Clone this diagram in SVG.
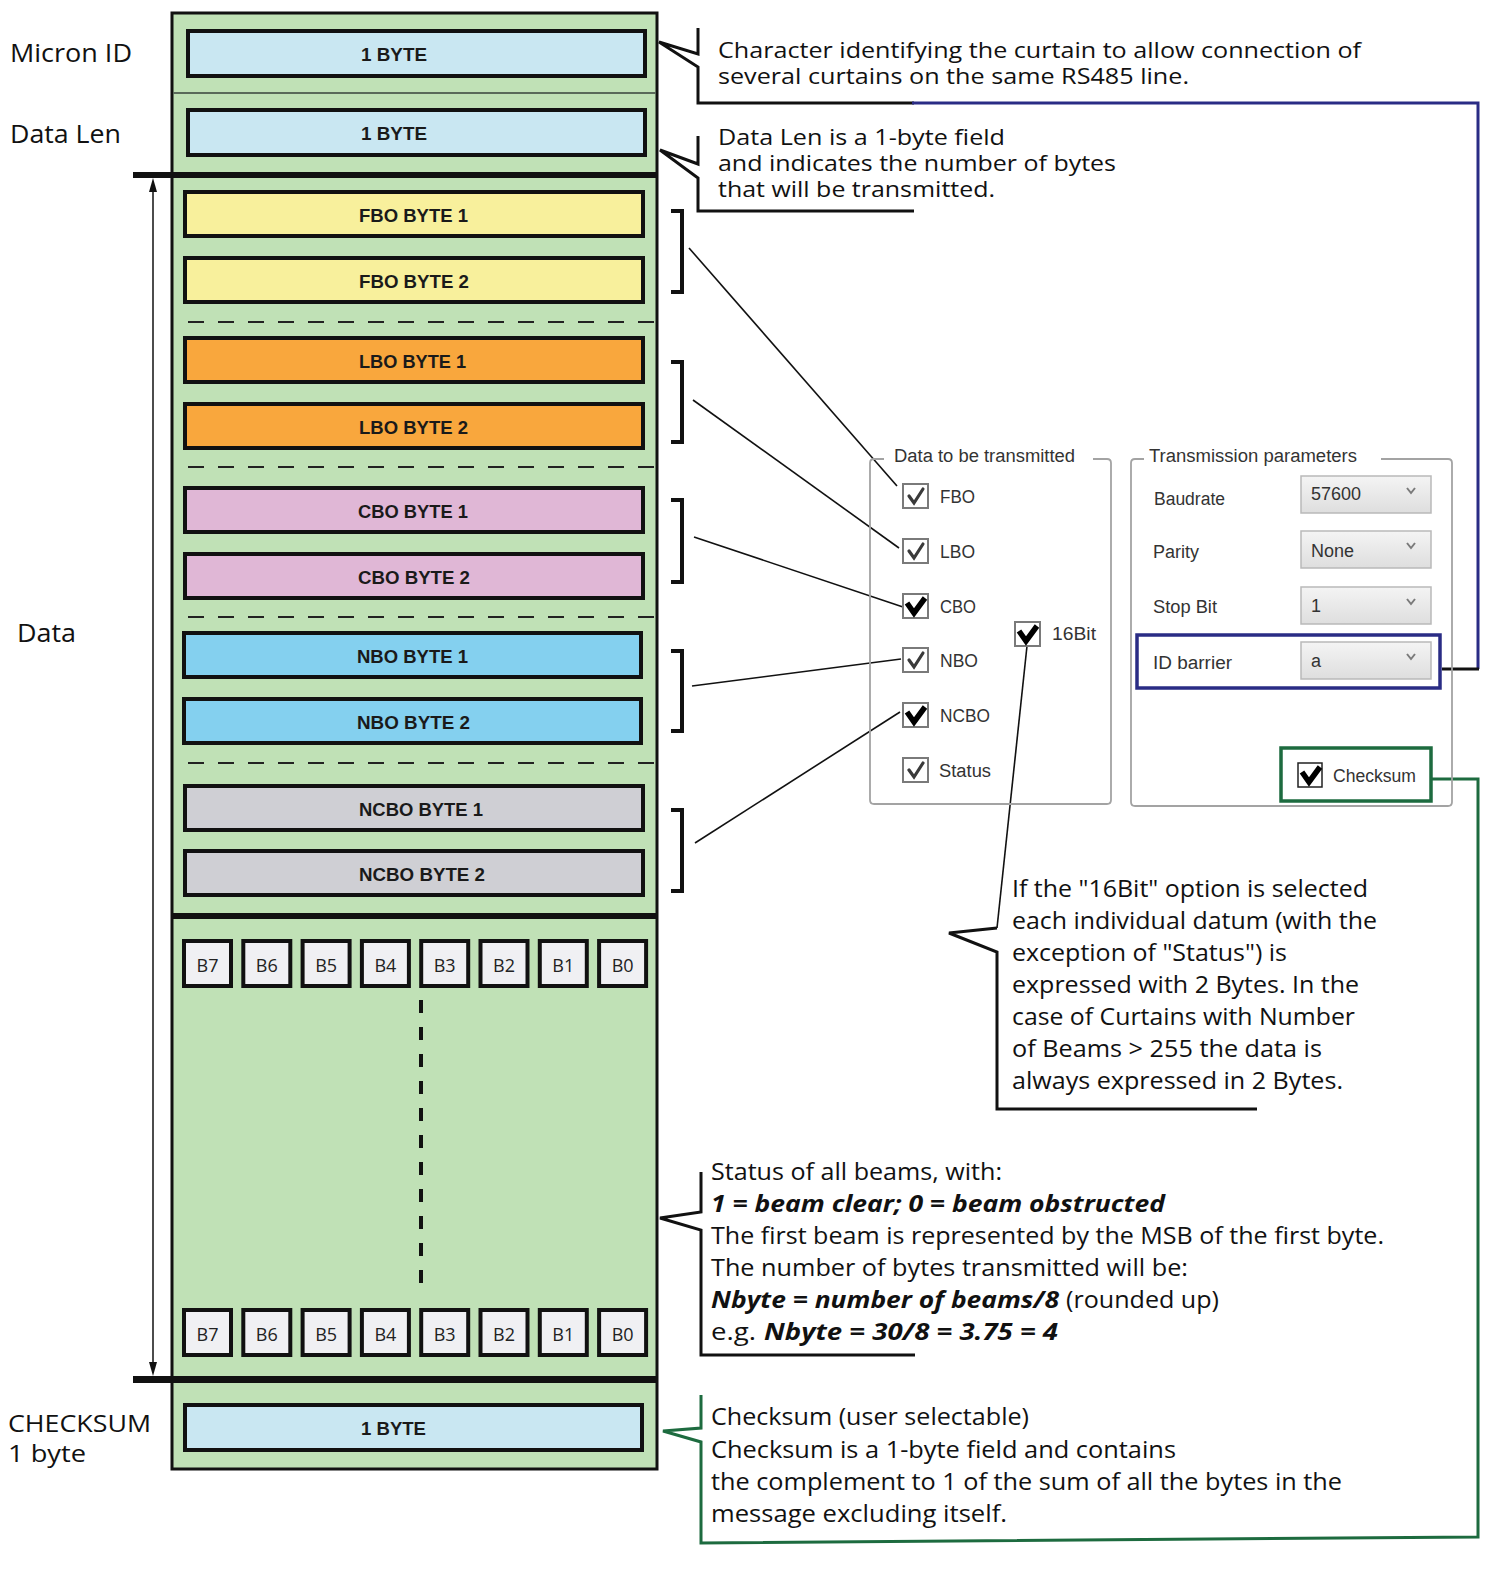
<svg xmlns="http://www.w3.org/2000/svg" width="1511" height="1578" viewBox="0 0 1511 1578">
<defs>
<style>
.lbl{font-family:"Open Sans","Liberation Sans",sans-serif;font-size:25px;fill:#111}
.lbs{font-family:"Open Sans","Liberation Sans",sans-serif;font-size:23px;fill:#111}
.bx{stroke:#111;stroke-width:4}
.bt{font-family:"Liberation Sans",Arial,sans-serif;font-weight:bold;font-size:18px;fill:#1a1a1a}
.bit{fill:#f0f0f3;stroke:#111;stroke-width:4}
.bitt{font-family:"Open Sans","Liberation Sans",sans-serif;font-size:18px;fill:#222;text-anchor:middle}
.dash{stroke:#222;stroke-width:2;stroke-dasharray:16 14}
.ann{font-family:"Open Sans","Liberation Sans",sans-serif;font-size:23px;fill:#111}
.ann2{font-family:"Open Sans","Liberation Sans",sans-serif;font-size:21px;fill:#111}
.bi{font-weight:bold;font-style:italic}
.call{fill:none;stroke:#111;stroke-width:3;stroke-linejoin:miter}
.thin{stroke:#111;stroke-width:1.6;fill:none}
.brk{fill:none;stroke:#111;stroke-width:4}
.ui{font-family:"Liberation Sans","DejaVu Sans",Arial,sans-serif;font-size:18px;fill:#333}
.grp{fill:none;stroke:#a3a3a3;stroke-width:1.8}
.cb{fill:#fff;stroke:#7a7a7a;stroke-width:2}
.chk{fill:none;stroke:#3a3a3a;stroke-width:3.2;stroke-linecap:round}
.chkb{fill:none;stroke:#000;stroke-width:5.5}
.dd{fill:url(#ddg);stroke:#b9b9b9;stroke-width:1.5}
.chev{fill:none;stroke:#7a7a7a;stroke-width:2}
</style>
<linearGradient id="ddg" x1="0" y1="0" x2="0" y2="1">
<stop offset="0" stop-color="#f4f4f4"/>
<stop offset="1" stop-color="#dedede"/>
</linearGradient>
</defs>
<rect width="1511" height="1578" fill="#ffffff"/>

<g id="frame">
<rect x="172" y="13" width="485" height="1456" fill="#c0e1b6" stroke="#111" stroke-width="3"/>
<line x1="173" y1="93" x2="656" y2="93" stroke="#5a6a5a" stroke-width="2"/>
<rect x="133" y="172" width="525" height="6" fill="#111"/>
<rect x="171" y="913" width="487" height="6" fill="#111"/>
<rect x="133" y="1376" width="525" height="7" fill="#111"/>
<line class="dash" x1="188" y1="322" x2="656" y2="322"/>
<line class="dash" x1="188" y1="467" x2="656" y2="467"/>
<line class="dash" x1="188" y1="617" x2="656" y2="617"/>
<line class="dash" x1="188" y1="763" x2="656" y2="763"/>
<line x1="421" y1="1000" x2="421" y2="1286" stroke="#111" stroke-width="4" stroke-dasharray="13 14"/>
<line x1="153" y1="188" x2="153" y2="1364" stroke="#111" stroke-width="1.5"/>
<polygon points="153,178 149,192 157,192" fill="#111"/>
<polygon points="153,1376 149,1362 157,1362" fill="#111"/>
</g>

<g id="labels-left">
<text class="lbl" x="10" y="62" textLength="122" lengthAdjust="spacingAndGlyphs">Micron ID</text>
<text class="lbl" x="10" y="143" textLength="111" lengthAdjust="spacingAndGlyphs">Data Len</text>
<text class="lbl" x="17" y="642" textLength="59" lengthAdjust="spacingAndGlyphs">Data</text>
<text class="lbs" x="8" y="1432" textLength="143" lengthAdjust="spacingAndGlyphs">CHECKSUM</text>
<text class="lbs" x="8" y="1462" textLength="78" lengthAdjust="spacingAndGlyphs">1 byte</text>
</g>

<g id="node-micron-id"><rect class="bx" x="188" y="31" width="457" height="45" fill="#c9e7f2"/><text class="bt" x="361" y="61" textLength="66" lengthAdjust="spacingAndGlyphs">1 BYTE</text></g>
<g id="node-data-len"><rect class="bx" x="188" y="110" width="457" height="45" fill="#c9e7f2"/><text class="bt" x="361" y="140" textLength="66" lengthAdjust="spacingAndGlyphs">1 BYTE</text></g>
<g id="node-fbo1"><rect class="bx" x="185" y="192" width="458" height="44" fill="#f8f09c"/><text class="bt" x="359" y="222" textLength="109" lengthAdjust="spacingAndGlyphs">FBO BYTE 1</text></g>
<g id="node-fbo2"><rect class="bx" x="185" y="258" width="458" height="44" fill="#f8f09c"/><text class="bt" x="359" y="288" textLength="110" lengthAdjust="spacingAndGlyphs">FBO BYTE 2</text></g>
<g id="node-lbo1"><rect class="bx" x="185" y="338" width="458" height="44" fill="#f9a73d"/><text class="bt" x="359" y="368" textLength="107" lengthAdjust="spacingAndGlyphs">LBO BYTE 1</text></g>
<g id="node-lbo2"><rect class="bx" x="185" y="404" width="458" height="44" fill="#f9a73d"/><text class="bt" x="359" y="434" textLength="109" lengthAdjust="spacingAndGlyphs">LBO BYTE 2</text></g>
<g id="node-cbo1"><rect class="bx" x="185" y="488" width="458" height="44" fill="#e0b7d6"/><text class="bt" x="358" y="518" textLength="110" lengthAdjust="spacingAndGlyphs">CBO BYTE 1</text></g>
<g id="node-cbo2"><rect class="bx" x="185" y="554" width="458" height="44" fill="#e0b7d6"/><text class="bt" x="358" y="584" textLength="112" lengthAdjust="spacingAndGlyphs">CBO BYTE 2</text></g>
<g id="node-nbo1"><rect class="bx" x="184" y="633" width="457" height="44" fill="#84d0ef"/><text class="bt" x="357" y="663" textLength="111" lengthAdjust="spacingAndGlyphs">NBO BYTE 1</text></g>
<g id="node-nbo2"><rect class="bx" x="184" y="699" width="457" height="44" fill="#84d0ef"/><text class="bt" x="357" y="729" textLength="113" lengthAdjust="spacingAndGlyphs">NBO BYTE 2</text></g>
<g id="node-ncbo1"><rect class="bx" x="185" y="786" width="458" height="44" fill="#cfcfd4"/><text class="bt" x="359" y="816" textLength="124" lengthAdjust="spacingAndGlyphs">NCBO BYTE 1</text></g>
<g id="node-ncbo2"><rect class="bx" x="185" y="851" width="458" height="44" fill="#cfcfd4"/><text class="bt" x="359" y="881" textLength="126" lengthAdjust="spacingAndGlyphs">NCBO BYTE 2</text></g>

<g id="node-bits-first">
<rect class="bit" x="184" y="941" width="47" height="45"/><text class="bitt" x="207.5" y="972">B7</text>
<rect class="bit" x="243.3" y="941" width="47" height="45"/><text class="bitt" x="266.8" y="972">B6</text>
<rect class="bit" x="302.6" y="941" width="47" height="45"/><text class="bitt" x="326.1" y="972">B5</text>
<rect class="bit" x="361.9" y="941" width="47" height="45"/><text class="bitt" x="385.4" y="972">B4</text>
<rect class="bit" x="421.2" y="941" width="47" height="45"/><text class="bitt" x="444.7" y="972">B3</text>
<rect class="bit" x="480.5" y="941" width="47" height="45"/><text class="bitt" x="504" y="972">B2</text>
<rect class="bit" x="539.8" y="941" width="47" height="45"/><text class="bitt" x="563.3" y="972">B1</text>
<rect class="bit" x="599.1" y="941" width="47" height="45"/><text class="bitt" x="622.6" y="972">B0</text>
</g>
<g id="node-bits-last">
<rect class="bit" x="184" y="1310" width="47" height="45"/><text class="bitt" x="207.5" y="1341">B7</text>
<rect class="bit" x="243.3" y="1310" width="47" height="45"/><text class="bitt" x="266.8" y="1341">B6</text>
<rect class="bit" x="302.6" y="1310" width="47" height="45"/><text class="bitt" x="326.1" y="1341">B5</text>
<rect class="bit" x="361.9" y="1310" width="47" height="45"/><text class="bitt" x="385.4" y="1341">B4</text>
<rect class="bit" x="421.2" y="1310" width="47" height="45"/><text class="bitt" x="444.7" y="1341">B3</text>
<rect class="bit" x="480.5" y="1310" width="47" height="45"/><text class="bitt" x="504" y="1341">B2</text>
<rect class="bit" x="539.8" y="1310" width="47" height="45"/><text class="bitt" x="563.3" y="1341">B1</text>
<rect class="bit" x="599.1" y="1310" width="47" height="45"/><text class="bitt" x="622.6" y="1341">B0</text>
</g>
<g id="node-checksum"><rect class="bx" x="185" y="1405" width="457" height="45" fill="#c9e7f2"/><text class="bt" x="361" y="1435" textLength="65" lengthAdjust="spacingAndGlyphs">1 BYTE</text></g>

<g id="connectors">
<polyline class="call" points="698,28 698,54 659,42 698,67 698,103 914,103"/>
<polyline fill="none" stroke="#2a2c85" stroke-width="3" points="912,103 1478,103 1478,669"/>
<line x1="1442" y1="669" x2="1479" y2="669" stroke="#111" stroke-width="3"/>
<polyline class="call" points="698,136 698,164 660,150 698,178 698,211 914,211"/>
<path class="brk" d="M671,211 H682 V292 H671 M671,362 H682 V442 H671 M671,500 H682 V582 H671 M671,651 H682 V731 H671 M671,810 H682 V891 H671"/>
<line class="thin" x1="689" y1="248" x2="897" y2="486"/>
<line class="thin" x1="693" y1="400" x2="899" y2="548"/>
<line class="thin" x1="694" y1="537" x2="903" y2="607"/>
<line class="thin" x1="692" y1="686" x2="901" y2="659"/>
<line class="thin" x1="695" y1="843" x2="900" y2="712"/>
<polyline class="thin" points="1027,646 997,928"/>
<polyline class="call" stroke-width="2.2" points="997,928 949,933 997,952 997,1109 1257,1109"/>
<polyline class="call" points="701,1172 701,1212 660,1218 701,1230 701,1355 915,1355"/>
<polyline fill="none" stroke="#1d6b3f" stroke-width="3" points="1432,779 1478,779 1478,1537 701,1543 701,1442 663,1431 701,1428 701,1395"/>
</g>

<g id="note-micron">
<text class="ann2" x="718" y="58" textLength="643" lengthAdjust="spacingAndGlyphs">Character identifying the curtain to allow connection of</text>
<text class="ann2" x="718" y="84" textLength="471" lengthAdjust="spacingAndGlyphs">several curtains on the same RS485 line.</text>
</g>
<g id="note-datalen">
<text class="ann2" x="718" y="145" textLength="287" lengthAdjust="spacingAndGlyphs">Data Len is a 1-byte field</text>
<text class="ann2" x="718" y="171" textLength="398" lengthAdjust="spacingAndGlyphs">and indicates the number of bytes</text>
<text class="ann2" x="718" y="197" textLength="277" lengthAdjust="spacingAndGlyphs">that will be transmitted.</text>
</g>
<g id="note-16bit">
<text class="ann" x="1012" y="897" textLength="356" lengthAdjust="spacingAndGlyphs">If the "16Bit" option is selected</text>
<text class="ann" x="1012" y="929" textLength="365" lengthAdjust="spacingAndGlyphs">each individual datum (with the</text>
<text class="ann" x="1012" y="961" textLength="275" lengthAdjust="spacingAndGlyphs">exception of "Status") is</text>
<text class="ann" x="1012" y="993" textLength="347" lengthAdjust="spacingAndGlyphs">expressed with 2 Bytes. In the</text>
<text class="ann" x="1012" y="1025" textLength="343" lengthAdjust="spacingAndGlyphs">case of Curtains with Number</text>
<text class="ann" x="1012" y="1057" textLength="310" lengthAdjust="spacingAndGlyphs">of Beams &gt; 255 the data is</text>
<text class="ann" x="1012" y="1089" textLength="331" lengthAdjust="spacingAndGlyphs">always expressed in 2 Bytes.</text>
</g>
<g id="note-status">
<text class="ann" x="711" y="1180" textLength="291" lengthAdjust="spacingAndGlyphs">Status of all beams, with:</text>
<text class="ann bi" x="711" y="1212" textLength="454" lengthAdjust="spacingAndGlyphs">1 = beam clear; 0 = beam obstructed</text>
<text class="ann" x="711" y="1244" textLength="673" lengthAdjust="spacingAndGlyphs">The first beam is represented by the MSB of the first byte.</text>
<text class="ann" x="711" y="1276" textLength="477" lengthAdjust="spacingAndGlyphs">The number of bytes transmitted will be:</text>
<text class="ann bi" x="711" y="1308" textLength="348" lengthAdjust="spacingAndGlyphs">Nbyte = number of beams/8</text>
<text class="ann" x="1066" y="1308" textLength="153" lengthAdjust="spacingAndGlyphs">(rounded up)</text>
<text class="ann" x="711" y="1340" textLength="45" lengthAdjust="spacingAndGlyphs">e.g.</text>
<text class="ann bi" x="764" y="1340" textLength="294" lengthAdjust="spacingAndGlyphs">Nbyte = 30/8 = 3.75 = 4</text>
</g>
<g id="note-checksum">
<text class="ann" x="711" y="1425" textLength="318" lengthAdjust="spacingAndGlyphs">Checksum (user selectable)</text>
<text class="ann" x="711" y="1458" textLength="465" lengthAdjust="spacingAndGlyphs">Checksum is a 1-byte field and contains</text>
<text class="ann" x="711" y="1490" textLength="631" lengthAdjust="spacingAndGlyphs">the complement to 1 of the sum of all the bytes in the</text>
<text class="ann" x="711" y="1522" textLength="296" lengthAdjust="spacingAndGlyphs">message excluding itself.</text>
</g>

<g id="node-data-panel">
<path class="grp" d="M884,459 H874 Q870,459 870,463 V800 Q870,804 874,804 H1107 Q1111,804 1111,800 V463 Q1111,459 1107,459 H1093"/>
<text class="ui" x="894" y="462" textLength="181" lengthAdjust="spacingAndGlyphs">Data to be transmitted</text>
<rect class="cb" x="903" y="484" width="25" height="24"/><path class="chk" d="M909,496 L914,503 L923,489"/>
<text class="ui" x="940" y="503" textLength="35" lengthAdjust="spacingAndGlyphs">FBO</text>
<rect class="cb" x="903" y="539" width="25" height="24"/><path class="chk" d="M909,551 L914,558 L923,544"/>
<text class="ui" x="940" y="558" textLength="35" lengthAdjust="spacingAndGlyphs">LBO</text>
<rect class="cb" x="903" y="594" width="25" height="24"/><path class="chkb" d="M907,603 L914,613 L925,598"/>
<text class="ui" x="940" y="613" textLength="36" lengthAdjust="spacingAndGlyphs">CBO</text>
<rect class="cb" x="903" y="648" width="25" height="24"/><path class="chk" d="M909,660 L914,667 L923,653"/>
<text class="ui" x="940" y="667" textLength="38" lengthAdjust="spacingAndGlyphs">NBO</text>
<rect class="cb" x="903" y="703" width="25" height="24"/><path class="chkb" d="M907,712 L914,722 L925,707"/>
<text class="ui" x="940" y="722" textLength="50" lengthAdjust="spacingAndGlyphs">NCBO</text>
<rect class="cb" x="903" y="758" width="25" height="24"/><path class="chk" d="M909,770 L914,777 L923,763"/>
<text class="ui" x="939" y="777" textLength="52" lengthAdjust="spacingAndGlyphs">Status</text>
<rect class="cb" x="1015" y="622" width="25" height="24"/><path class="chkb" d="M1019,631 L1026,641 L1037,626"/>
<text class="ui" x="1052" y="640" textLength="44" lengthAdjust="spacingAndGlyphs">16Bit</text>
</g>

<g id="node-params-panel">
<path class="grp" d="M1144,459 H1135 Q1131,459 1131,463 V802 Q1131,806 1135,806 H1448 Q1452,806 1452,802 V463 Q1452,459 1448,459 H1381"/>
<text class="ui" x="1149" y="462" textLength="208" lengthAdjust="spacingAndGlyphs">Transmission parameters</text>
<text class="ui" x="1154" y="505" textLength="71" lengthAdjust="spacingAndGlyphs">Baudrate</text>
<rect class="dd" x="1301" y="476" width="130" height="37"/>
<text class="ui" x="1311" y="500" textLength="50" lengthAdjust="spacingAndGlyphs">57600</text>
<polyline class="chev" points="1407,488 1411,493 1415,488"/>
<text class="ui" x="1153" y="558" textLength="46" lengthAdjust="spacingAndGlyphs">Parity</text>
<rect class="dd" x="1301" y="531" width="130" height="37"/>
<text class="ui" x="1311" y="557" textLength="43" lengthAdjust="spacingAndGlyphs">None</text>
<polyline class="chev" points="1407,543 1411,548 1415,543"/>
<text class="ui" x="1153" y="613" textLength="64" lengthAdjust="spacingAndGlyphs">Stop Bit</text>
<rect class="dd" x="1301" y="587" width="130" height="37"/>
<text class="ui" x="1311" y="612">1</text>
<polyline class="chev" points="1407,599 1411,604 1415,599"/>
<rect x="1137" y="635" width="303" height="53" fill="none" stroke="#2a2c85" stroke-width="3.5"/>
<text class="ui" x="1153" y="669" textLength="79" lengthAdjust="spacingAndGlyphs">ID barrier</text>
<rect class="dd" x="1301" y="642" width="130" height="37"/>
<text class="ui" x="1311" y="667">a</text>
<polyline class="chev" points="1407,654 1411,659 1415,654"/>
<rect x="1281" y="748" width="150" height="53" fill="none" stroke="#1d6b3f" stroke-width="3.5"/>
<rect x="1298" y="763" width="24" height="24" fill="#fff" stroke="#222" stroke-width="1.5"/>
<path class="chkb" d="M1302,772 L1309,782 L1320,767"/>
<text class="ui" x="1333" y="782" textLength="83" lengthAdjust="spacingAndGlyphs">Checksum</text>
</g>
</svg>
